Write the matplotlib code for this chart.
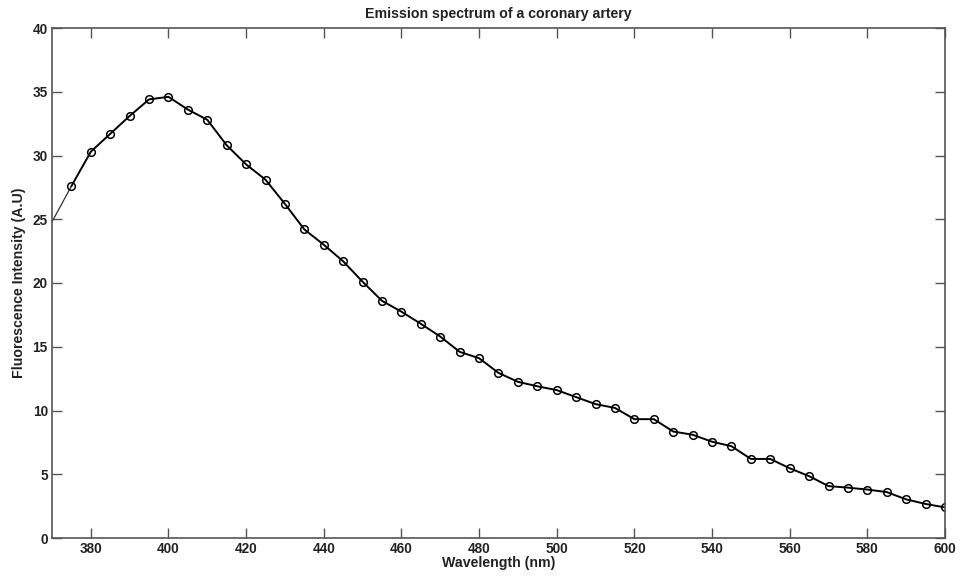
import matplotlib
matplotlib.use("Agg")
import matplotlib.pyplot as plt

wavelength = list(range(370, 601, 5))
intensity = [24.8, 27.6, 30.3, 31.7, 33.1, 34.4, 34.6, 33.6, 32.8, 30.8, 29.3,
             28.1, 26.2, 24.2, 23.0, 21.7, 20.1, 18.6, 17.75, 16.8, 15.8, 14.6,
             14.1, 12.95, 12.25, 11.9, 11.6, 11.05, 10.5, 10.2, 9.32, 9.32, 8.35,
             8.1, 7.55, 7.2, 6.2, 6.2, 5.47, 4.85, 4.07, 3.95, 3.8, 3.6, 3.03,
             2.67, 2.4]
xticks = [380, 400, 420, 440, 460, 480, 500, 520, 540, 560, 580, 600]
yticks = [0, 5, 10, 15, 20, 25, 30, 35, 40]

plt.rcParams['font.family'] = ['Liberation Sans', 'DejaVu Sans']
fig = plt.figure(figsize=(9.61, 5.77), dpi=100)
ax = fig.add_axes([52/961, 39/577, 893/961, 510/577])
ax.plot(wavelength[:2], intensity[:2], color='#333333', lw=0.9)
ax.plot(wavelength[1:], intensity[1:], color='black', lw=1.4, marker='o',
        markersize=5.5, markerfacecolor='none', markeredgecolor='black', markeredgewidth=1.1)
ax.set_xlim(370, 600)
ax.set_ylim(0, 40)
ax.set_xticks(xticks)
ax.set_yticks(yticks)
ax.tick_params(direction='in', length=7, width=1, color='#555555', top=True, right=True,
               labelsize=9.8, pad=3)
for lab in ax.get_xticklabels() + ax.get_yticklabels():
    lab.set_fontweight('bold')
    lab.set_color('#222222')
for s in ax.spines.values():
    s.set_color('#555555')
    s.set_linewidth(1.2)
ax.set_xlabel('Wavelength (nm)', fontsize=10.2, fontweight='bold', color='#222222', labelpad=0)
ax.set_ylabel('Fluorescence Intensity (A.U)', fontsize=10.2, fontweight='bold', color='#222222', labelpad=5)
ax.set_title('Emission spectrum of a coronary artery', fontsize=10.2, fontweight='bold', color='#222222', pad=7)
fig.savefig('out.png', dpi=100)
